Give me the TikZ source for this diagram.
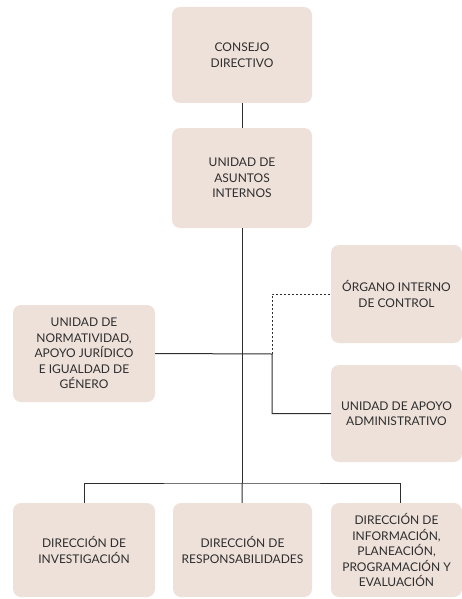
\documentclass[tikz,border=0pt]{standalone}
\usepackage{fontspec}
\setmainfont{Lato}
\definecolor{boxfill}{HTML}{EEE1DA}
\definecolor{linegray}{HTML}{2E2E2E}
\tikzset{
  unit/.style={fill=boxfill, rounded corners=8pt, align=center, inner sep=2pt,
    font=\fontsize{12}{15.5}\selectfont, text=linegray},
  link/.style={draw=linegray, line width=1pt},
}
\begin{document}
\begin{tikzpicture}[x=1pt, y=-1pt]
  \useasboundingbox (0,0) rectangle (462,599);
  \node[unit, minimum width=140pt, minimum height=96pt] (consejo) at (242,55) {CONSEJO\\DIRECTIVO}; %
  \node[unit, minimum width=140pt, minimum height=100pt] (asuntos) at (242,178) {UNIDAD DE\\ASUNTOS\\INTERNOS}; %
  \node[unit, minimum width=131pt, minimum height=98pt] (organo) at (396.5,294) {ÓRGANO INTERNO\\DE CONTROL}; %
  \node[unit, minimum width=142pt, minimum height=97pt] (normat) at (84,353.5) {UNIDAD DE\\NORMATIVIDAD,\\APOYO JURÍDICO\\E IGUALDAD DE\\GÉNERO}; %
  \node[unit, minimum width=131pt, minimum height=97pt] (apoyo) at (396.5,413.5) {UNIDAD DE APOYO\\ADMINISTRATIVO}; %
  \node[unit, minimum width=142pt, minimum height=94pt] (invest) at (84,550) {DIRECCIÓN DE\\INVESTIGACIÓN}; %
  \node[unit, minimum width=139pt, minimum height=94pt] (respon) at (242.5,550) {DIRECCIÓN DE\\RESPONSABILIDADES}; %
  \node[unit, minimum width=131pt, minimum height=94pt] (inform) at (396.5,550) {DIRECCIÓN DE\\INFORMACIÓN,\\PLANEACIÓN,\\PROGRAMACIÓN Y\\EVALUACIÓN}; %
  \coordinate (split) at (242,483); %
  \coordinate (knee) at (272,354); %
  \draw[link] (consejo) -- (asuntos); %
  \draw[link] (asuntos) -- (split); %
  \draw[link] (invest.north) |- (split) -| (400,503); %
  \draw[link] (split) -- (respon); %
  \draw[link] (normat.east) -- (knee) |- (apoyo.west); %
  \draw[link, dashed, line width=0.8pt, dash pattern=on 2pt off 2pt] (knee) |- (organo.west); %
\end{tikzpicture}
\end{document}
